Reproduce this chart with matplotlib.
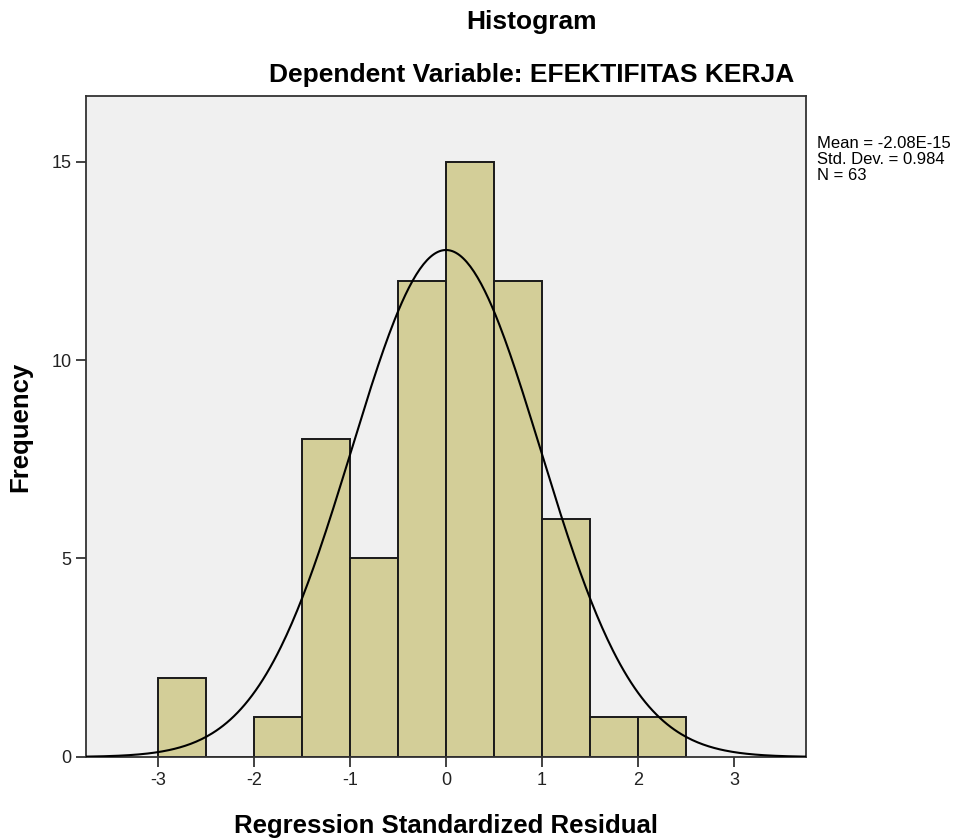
import numpy as np
import matplotlib
matplotlib.use('Agg')
import matplotlib.pyplot as plt

# histogram data (read from the SPSS output)
bin_edges = [-3.0, -2.5, -2.0, -1.5, -1.0, -0.5, 0.0, 0.5, 1.0, 1.5, 2.0, 2.5]
counts = [2, 0, 1, 8, 5, 12, 15, 12, 6, 1, 1]
mean = -2.08e-15
std_dev = 0.984
n_obs = 63

plt.rcParams['font.family'] = ['Liberation Sans', 'DejaVu Sans']
plt.rcParams['axes.unicode_minus'] = False

fig = plt.figure(figsize=(9.69, 8.38), dpi=100)
ax = fig.add_axes([0.0888, 0.0967, 0.7430, 0.7887])
ax.set_facecolor('#F0F0F0')

lefts = np.array(bin_edges[:-1])
widths = np.diff(bin_edges)
ax.bar(lefts, counts, width=widths, align='edge', color='#D3CE98',
       edgecolor='#1a1a1a', linewidth=1.4, zorder=2)

# normal curve scaled to the histogram
bw = widths[0]
x = np.linspace(-3.75, 3.75, 400)
y = n_obs * bw * np.exp(-0.5 * ((x - mean) / std_dev) ** 2) / (std_dev * np.sqrt(2 * np.pi))
ax.plot(x, y, color='black', linewidth=1.5, zorder=3)

ax.set_xlim(-3.75, 3.75)
ax.set_ylim(0, 16.65)
ax.set_xticks([-3, -2, -1, 0, 1, 2, 3])
ax.set_yticks([0, 5, 10, 15])
ax.tick_params(direction='out', length=7, width=1.2, labelsize=13, colors='#222222')
for s in ax.spines.values():
    s.set_linewidth(1.3)
    s.set_color('#333333')

ax.set_xlabel('Regression Standardized Residual', fontsize=18.5, fontweight='bold', labelpad=18)
ax.set_ylabel('Frequency', fontsize=18.5, fontweight='bold', labelpad=14)

fig.text(0.549, 0.974, 'Histogram', ha='center', va='center', fontsize=19, fontweight='bold')
fig.text(0.549, 0.911, 'Dependent Variable: EFEKTIFITAS KERJA', ha='center', va='center',
         fontsize=19, fontweight='bold')

stats = 'Mean = %.2E\nStd. Dev. = %.3f\nN = %d' % (mean, std_dev, n_obs)
fig.text(0.843, 0.838, stats, ha='left', va='top', fontsize=12, linespacing=1.1)

fig.savefig('out.png', dpi=100)
